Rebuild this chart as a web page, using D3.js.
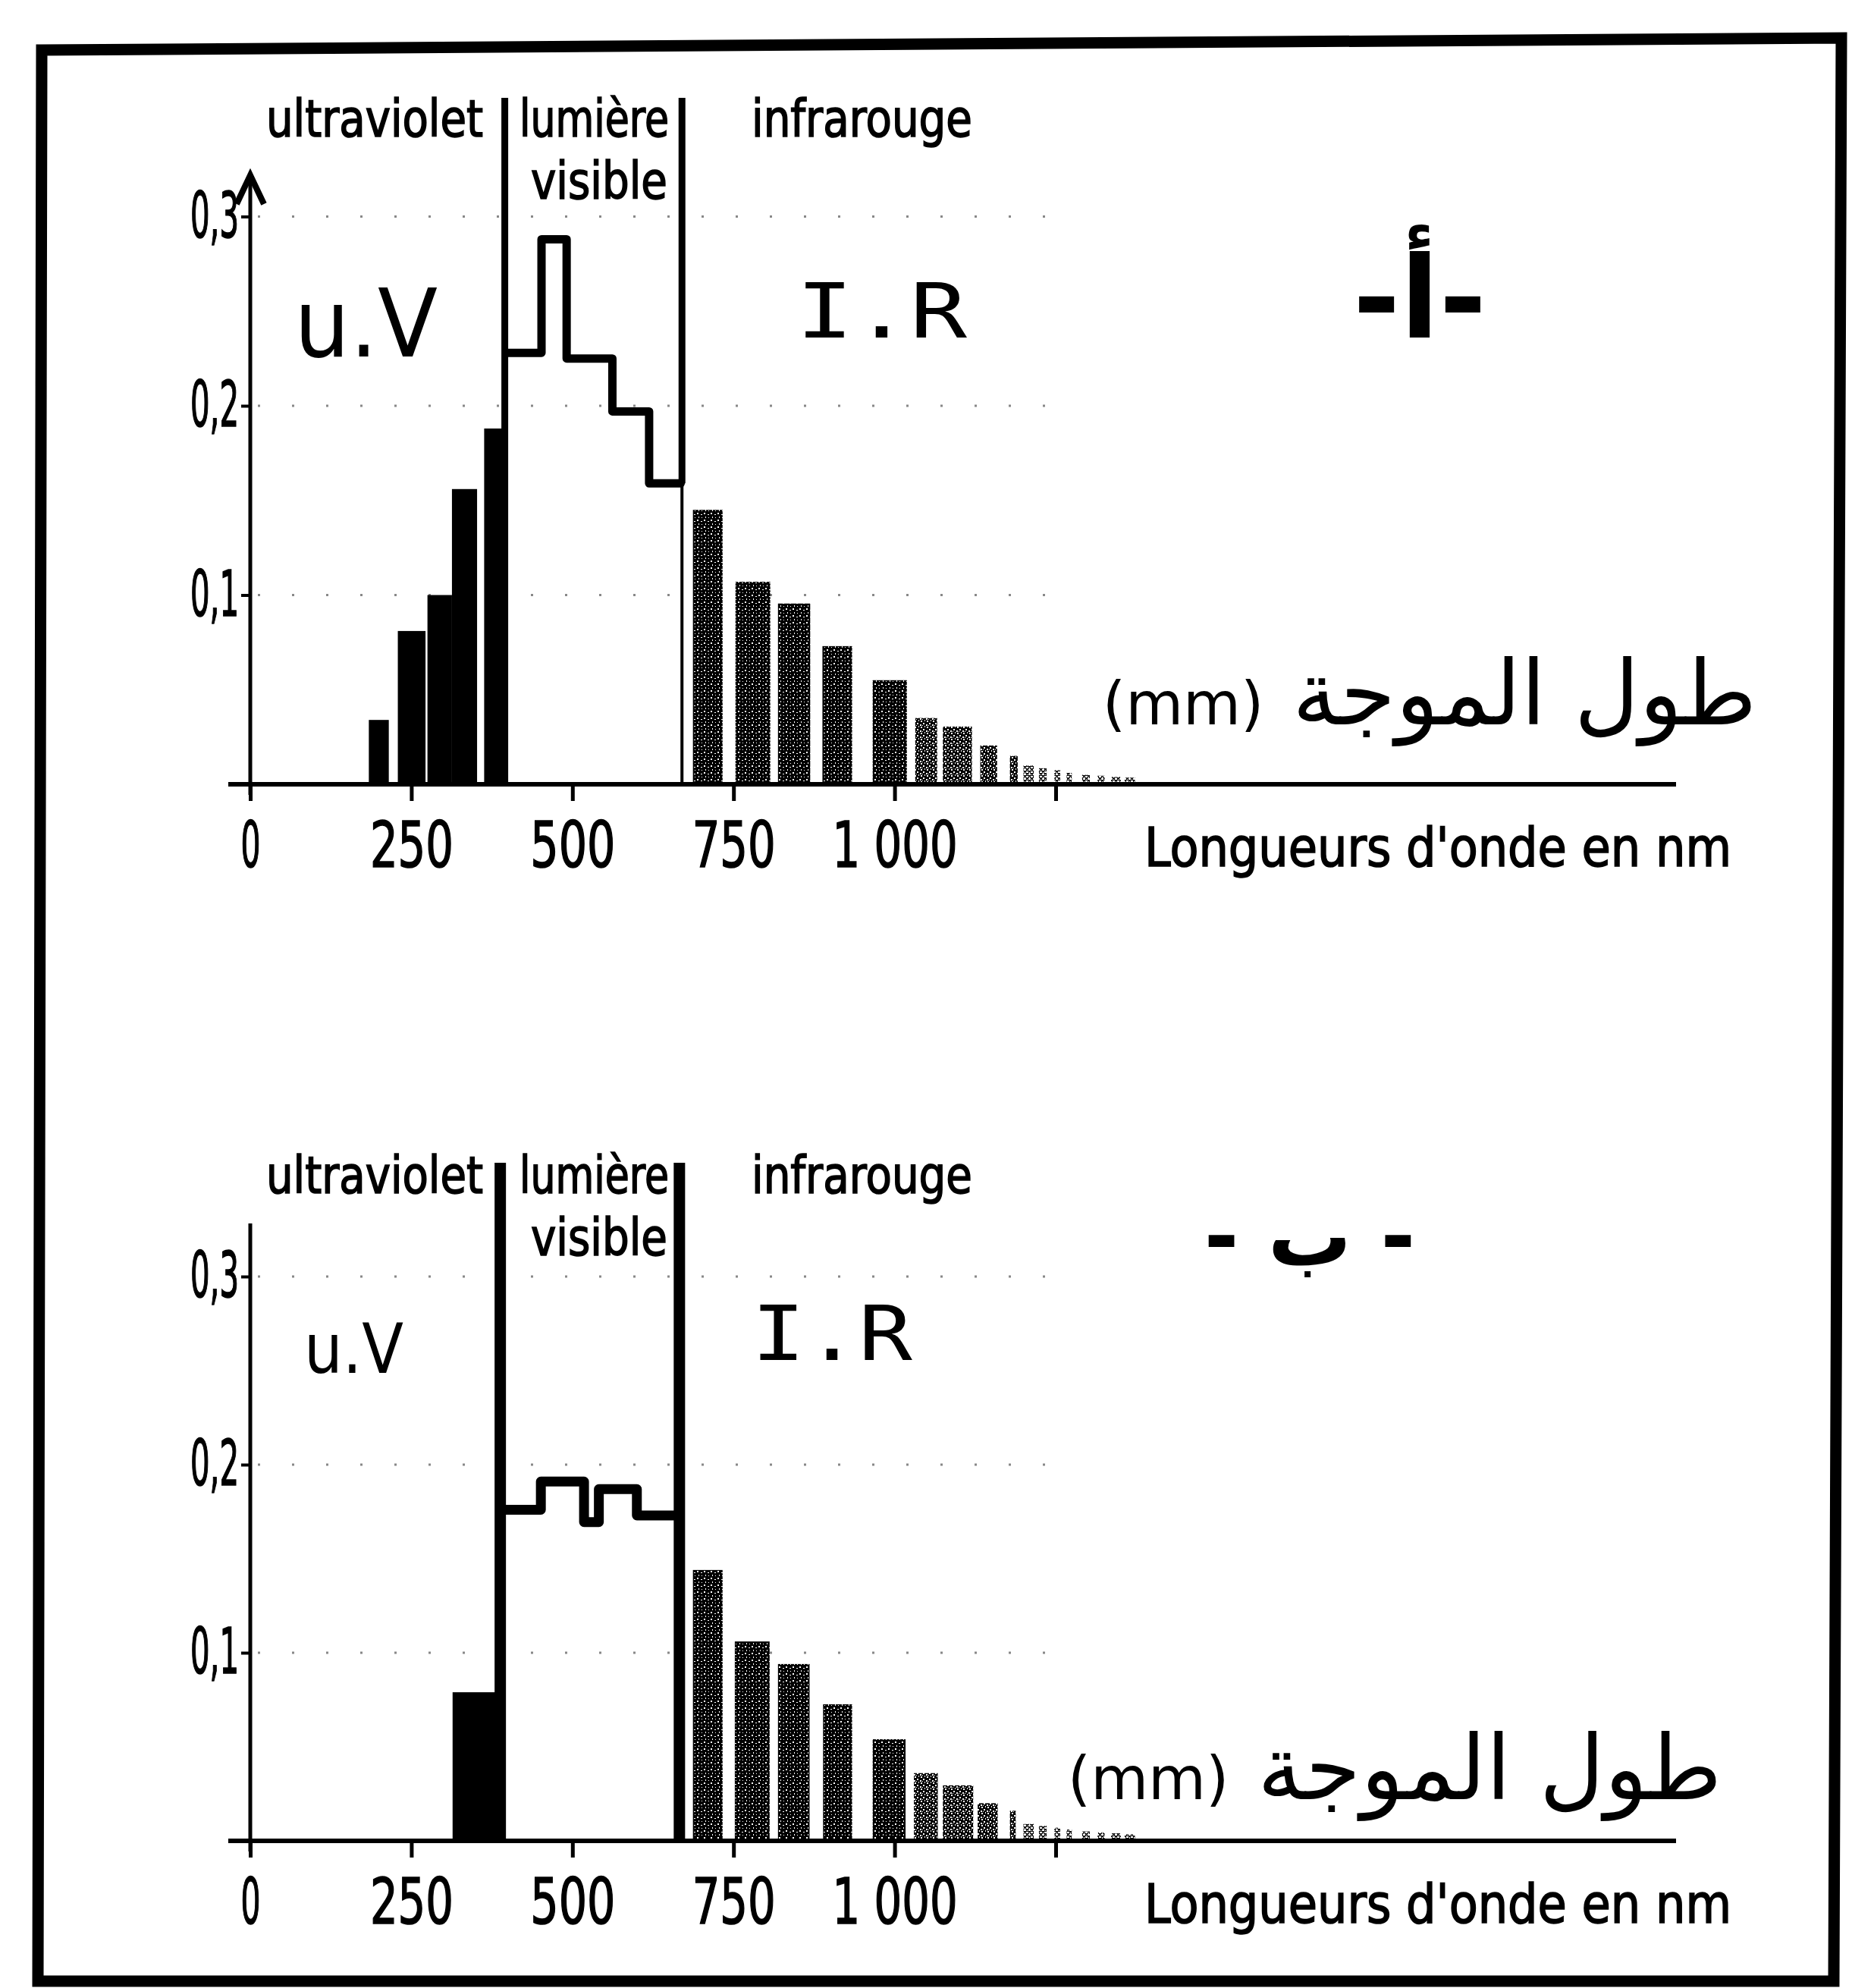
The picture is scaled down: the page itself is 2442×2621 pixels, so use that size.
<!DOCTYPE html>
<html><head><meta charset="utf-8">
<script src="https://cdn.jsdelivr.net/npm/d3@7/dist/d3.min.js"></script>
<style>html,body{margin:0;padding:0;background:#fff;}svg{display:block;}</style>
</head><body>
<div id="chart"></div>
<script>
// ---------- data (wavelength in nm, relative value) ----------
const xTickValues = [0, 250, 500, 750, 1000, 1250];
const xTickLabels = ["0", "250", "500", "750", "1 000", ""];
const yTickValues = [0.1, 0.2, 0.3];
const yTickLabels = ["0,1", "0,2", "0,3"];

// chart A (top)
const uvBarsA = [[184,215,0.034],[229,272,0.081],[275,313,0.100],[313,352,0.156],[363,397,0.188]];
const visEdgesA = [398, 452, 491, 562, 619, 668];
const visValuesA = [0.228, 0.288, 0.225, 0.197, 0.159];
const visBoundsA = [395, 670];
const irBarsA = [[687,733,0.145],[753,807,0.107],[819,869,0.0955],[888,934,0.073],[966,1019,0.055]];
const irFaintA = [[1032,1066,0.035],[1075,1120,0.0305],[1133,1159,0.0205],[1179,1191,0.015]];
const tailBarsA = [[1200,1216,0.010],[1224,1236,0.0085],[1248,1257,0.0075],[1267,1275,0.006],[1291,1303,0.005],[1315,1326,0.0045],[1336,1351,0.004],[1357,1373,0.0035]];

// chart B (bottom)
const uvBarsB = [[314,388,0.079]];
const visEdgesB = [392, 451, 518, 541, 600, 662];
const visValuesB = [0.176, 0.191, 0.1695, 0.187, 0.173];
const visBoundsB = [388, 666];
const irBarsB = [[687,733,0.144],[752,806,0.106],[819,868,0.094],[889,934,0.0726],[966,1017,0.054]];
const irFaintB = [[1030,1067,0.036],[1075,1122,0.0295],[1129,1160,0.020],[1179,1188,0.016]];
const tailBarsB = [[1200,1216,0.009],[1224,1236,0.008],[1248,1257,0.007],[1267,1275,0.006],[1291,1303,0.005],[1315,1326,0.0045],[1336,1351,0.004],[1357,1373,0.0035]];

const regionLabels = ["ultraviolet", "lumière", "visible", "infrarouge"];
const axisTitle = "Longueurs d'onde en nm";
const arabicWord = "طول الموجة";
const arabicUnit = "(mm)";
const panelMarks = ["-أ-", "- ب -"];

// ---------- drawing ----------
const W = 2442, H = 2621;
const svg = d3.select("#chart").append("svg").attr("width", W).attr("height", H).attr("viewBox", `0 0 ${W} ${H}`);
svg.append("rect").attr("width", W).attr("height", H).attr("fill", "#fff");

const defs = svg.append("defs");
function stipple(id, size, base, holes) {
  const p = defs.append("pattern").attr("id", id).attr("width", size).attr("height", size).attr("patternUnits", "userSpaceOnUse");
  p.append("rect").attr("width", size).attr("height", size).attr("fill", base);
  holes.forEach(r => p.append("rect").attr("x", r[0]).attr("y", r[1]).attr("width", r[2]).attr("height", r[3]).attr("fill", "#fff"));
}
stipple("stip", 9, "#000", [[1,1,2,2],[6,3,2,1],[3,6,1,2],[7,7,1,1]]);
stipple("stipM", 8, "#000", [[1,1,2,2],[5,3,2,2],[3,5,1,2],[6,6,2,2],[0,4,1,1]]);
stipple("stip2", 6, "#111", [[0,0,3,2],[3,3,3,2],[1,4,1,2],[4,1,1,1]]);

const narrow = "'Liberation Sans Narrow','Arial Narrow','DejaVu Sans Condensed','Roboto Condensed',sans-serif";
const hand = "'DejaVu Sans',sans-serif";
const handMono = "'DejaVu Sans Mono',monospace";
const textStroke = sel => sel.attr("stroke", "#000").attr("stroke-width", 1.6);

// frame
svg.append("path")
  .attr("d", "M55,66 L2428,50 L2418,2612 L50,2612 Z")
  .attr("fill", "none").attr("stroke", "#000").attr("stroke-width", 15).attr("stroke-linejoin", "miter");

const x = d3.scaleLinear().domain([0, 1250]).range([330, 1392]);

function panel(cfg) {
  const y = d3.scaleLinear().domain([0, 0.3]).range([cfg.base, cfg.top03]);
  const g = svg.append("g");

  // dotted grid
  yTickValues.forEach(v => {
    g.append("line").attr("x1", x(0) + 10).attr("x2", x(cfg.gridEnd)).attr("y1", y(v)).attr("y2", y(v))
      .attr("stroke", "#888").attr("stroke-width", 3).attr("stroke-dasharray", "3,42");
  });

  const bars = (data, fill) => g.selectAll(null).data(data).enter().append("rect")
    .attr("x", d => x(d[0])).attr("width", d => x(d[1]) - x(d[0]))
    .attr("y", d => y(d[2])).attr("height", d => y(0) - y(d[2])).attr("fill", fill);
  bars(cfg.uv, "#000");
  bars(cfg.ir, "url(#stip)");
  bars(cfg.irFaint, "url(#stipM)");
  bars(cfg.tail, "url(#stip2)");

  // visible step line
  const pts = [];
  cfg.visValues.forEach((v, i) => { pts.push([x(cfg.visEdges[i]), y(v)]); pts.push([x(cfg.visEdges[i + 1]), y(v)]); });
  g.append("path").attr("d", d3.line()(pts)).attr("fill", "none").attr("stroke", "#000")
    .attr("stroke-width", cfg.stepW).attr("stroke-linejoin", "round").attr("stroke-linecap", "round");

  // boundary lines
  g.append("line").attr("x1", x(cfg.bounds[0])).attr("x2", x(cfg.bounds[0])).attr("y1", cfg.boundTop).attr("y2", y(0))
    .attr("stroke", "#000").attr("stroke-width", cfg.boundW);
  const lastV = cfg.visValues[cfg.visValues.length - 1];
  g.append("line").attr("x1", x(cfg.bounds[1])).attr("x2", x(cfg.bounds[1])).attr("y1", cfg.boundTop).attr("y2", y(lastV))
    .attr("stroke", "#000").attr("stroke-width", cfg.boundW);
  g.append("line").attr("x1", x(cfg.bounds[1])).attr("x2", x(cfg.bounds[1])).attr("y1", y(lastV)).attr("y2", y(0))
    .attr("stroke", "#000").attr("stroke-width", cfg.boundW2);

  // x axis
  g.append("line").attr("x1", 301).attr("x2", 2210).attr("y1", y(0)).attr("y2", y(0)).attr("stroke", "#000").attr("stroke-width", 6);
  const xa = g.append("g").attr("transform", `translate(0,${y(0)})`)
    .call(d3.axisBottom(x).tickValues(xTickValues).tickFormat((d, i) => xTickLabels[i]).tickSize(22).tickPadding(27));
  xa.select(".domain").remove();
  xa.selectAll(".tick line").attr("stroke", "#000").attr("stroke-width", 5);
  const xWidths = [26, 110, 112, 110, 165, 0];
  xa.selectAll(".tick text").attr("font-family", narrow).attr("font-size", 84).attr("fill", "#000").call(textStroke)
    .each(function (d, i) { if (xWidths[i] > 0) d3.select(this).attr("textLength", xWidths[i]).attr("lengthAdjust", "spacingAndGlyphs"); });

  // y axis
  g.append("line").attr("x1", x(0)).attr("x2", x(0)).attr("y1", cfg.yAxisTop).attr("y2", y(0) + 14).attr("stroke", "#000").attr("stroke-width", 5);
  if (cfg.arrow) {
    g.append("path").attr("d", `M${x(0) - 18},${cfg.yAxisTop + 38} L${x(0)},${cfg.yAxisTop} L${x(0) + 18},${cfg.yAxisTop + 38}`)
      .attr("fill", "none").attr("stroke", "#000").attr("stroke-width", 8).attr("stroke-linejoin", "miter");
  }
  const ya = g.append("g").attr("transform", `translate(${x(0)},0)`)
    .call(d3.axisLeft(y).tickValues(yTickValues).tickFormat((d, i) => yTickLabels[i]).tickSize(12).tickPadding(3));
  ya.select(".domain").remove();
  ya.selectAll(".tick line").attr("stroke", "#000").attr("stroke-width", 4);
  ya.selectAll(".tick text").attr("font-family", narrow).attr("font-size", 84).attr("fill", "#000").call(textStroke)
    .attr("textLength", 64).attr("lengthAdjust", "spacingAndGlyphs");

  // region labels
  const off = cfg.textOff;
  const lab = [[351, 180, 286], [685, 180, 197], [700, 262, 180], [991, 180, 291]];
  regionLabels.forEach((t, i) => {
    g.append("text").attr("x", lab[i][0]).attr("y", lab[i][1] + off).text(t)
      .attr("font-family", narrow).attr("font-size", 68).attr("fill", "#000").call(textStroke)
      .attr("textLength", lab[i][2]).attr("lengthAdjust", "spacingAndGlyphs");
  });
  // axis title
  g.append("text").attr("x", 1509).attr("y", y(0) + 108).text(axisTitle)
    .attr("font-family", narrow).attr("font-size", 72).attr("fill", "#000").call(textStroke)
    .attr("textLength", 774).attr("lengthAdjust", "spacingAndGlyphs");

  // handwritten annotations
  g.append("text").attr("x", cfg.uvLab[0]).attr("y", cfg.uvLab[1]).text("u.V")
    .attr("font-family", hand).attr("font-size", cfg.uvLab[3]).attr("fill", "#000")
    .attr("textLength", cfg.uvLab[2]).attr("lengthAdjust", "spacingAndGlyphs");
  g.append("text").attr("x", cfg.irLab[0]).attr("y", cfg.irLab[1]).text("I.R")
    .attr("font-family", handMono).attr("font-size", cfg.irLab[3]).attr("fill", "#000")
    .attr("textLength", cfg.irLab[2]).attr("lengthAdjust", "spacingAndGlyphs");
  g.append("text").attr("x", cfg.mark[0]).attr("y", cfg.mark[1]).text(cfg.markText)
    .attr("font-family", hand).attr("font-size", cfg.mark[2]).attr("font-weight", "bold").attr("fill", "#000")
    .attr("text-anchor", "middle").attr("direction", "rtl");
  const at = g.append("text").attr("x", cfg.arab[0]).attr("y", cfg.arab[1])
    .attr("font-family", hand).attr("font-size", cfg.arab[2]).attr("fill", "#000")
    .attr("text-anchor", "middle").attr("direction", "rtl");
  at.append("tspan").text(arabicWord + " ");
  at.append("tspan").attr("font-size", cfg.arab[3]).text(arabicUnit);
}

panel({
  base: 1034, top03: 285.5, gridEnd: 1250, uv: uvBarsA, ir: irBarsA, irFaint: irFaintA, tail: tailBarsA,
  visEdges: visEdgesA, visValues: visValuesA, bounds: visBoundsA, boundTop: 129, boundW: 9, boundW2: 4, stepW: 11,
  yAxisTop: 231, arrow: true, textOff: 0,
  uvLab: [388, 470, 189, 125], irLab: [1050, 445, 225, 100], mark: [1872, 445, 150], markText: panelMarks[0],
  arab: [1885, 955, 118, 78]
});
panel({
  base: 2427, top03: 1683, gridEnd: 1250, uv: uvBarsB, ir: irBarsB, irFaint: irFaintB, tail: tailBarsB,
  visEdges: visEdgesB, visValues: visValuesB, bounds: visBoundsB, boundTop: 1533, boundW: 15, boundW2: 15, stepW: 13,
  yAxisTop: 1613, arrow: false, textOff: 1393,
  uvLab: [401, 1810, 131, 90], irLab: [991, 1793, 212, 100], mark: [1727, 1668, 110], markText: panelMarks[1],
  arab: [1839, 2372, 118, 78]
});
</script>
</body></html>
